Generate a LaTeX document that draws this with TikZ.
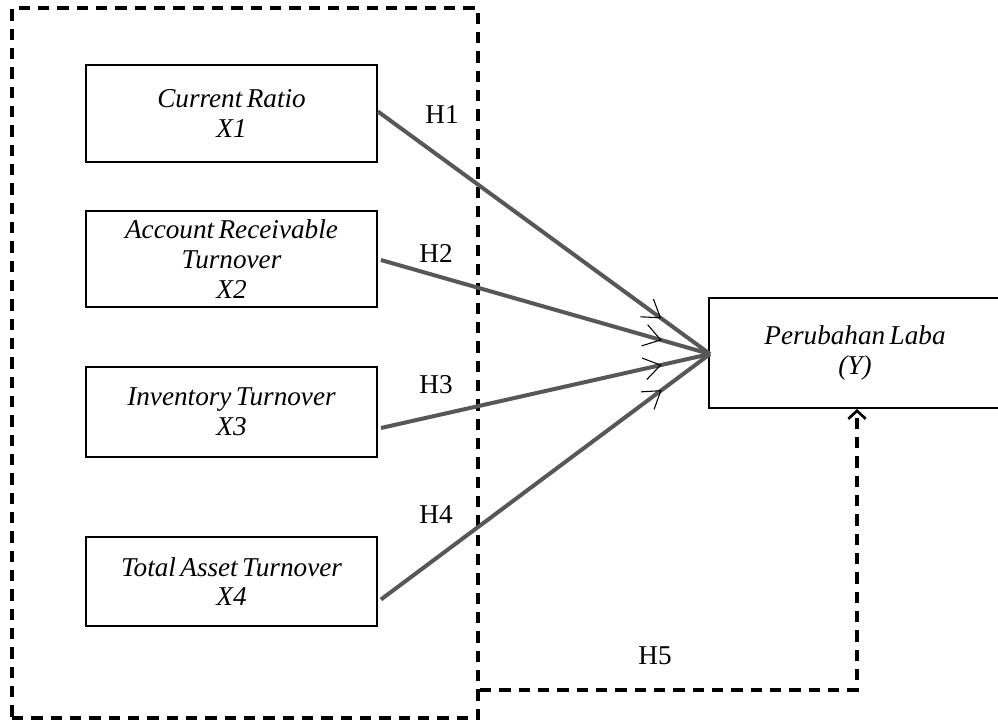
\documentclass[tikz,border=0pt]{standalone}
\usepackage{fontspec}
\setmainfont{Liberation Serif}[WordSpace=0.65]
\usetikzlibrary{arrows.meta,decorations.markings,calc}
\begin{document}
\begin{tikzpicture}[x=0.75pt,y=-0.75pt,
  box/.style={draw=black,line width=1.4pt,minimum width=291*0.75pt,align=center,inner sep=0pt,
    font=\fontsize{20.4}{22.3}\selectfont\itshape},
  lbl/.style={font=\fontsize{20.4}{22.3}\selectfont},
  grpbox/.style={draw=black,line width=2.8pt,dash pattern=on 8.5pt off 6pt,minimum width=466*0.75pt,minimum height=710*0.75pt,inner sep=0pt},
  hyp/.style={draw=black!66,line width=3pt,
    postaction={decorate,decoration={markings,mark=at position 0.853 with {\arrow[black,line width=0.8pt]{Straight Barb[length=12.5pt,width=16.5pt]}}}}},
  dasharrow/.style={draw=black,line width=2.8pt,dash pattern=on 8.5pt off 6pt,-{Straight Barb[length=6pt,width=13pt,line width=2pt]}}
]
\useasboundingbox (0,0) rectangle (998,724);
\node[grpbox] (grp) at (245,363) {};
\node[box,minimum height=97*0.75pt] (b1) at (231.5,113.5) {Current Ratio\\X1};
\node[box,minimum height=96*0.75pt] (b2) at (231.5,259) {Account Receivable\\Turnover\\X2};
\node[box,minimum height=90*0.75pt] (b3) at (231.5,412) {Inventory Turnover\\X3};
\node[box,minimum height=89*0.75pt] (b4) at (231.5,581.5) {Total Asset Turnover\\X4};
\node[box,line width=1.5pt,minimum width=292*0.75pt,minimum height=110*0.75pt] (Y) at (855,353) {Perubahan Laba\\(Y)};
\coordinate (conv) at ($(Y.west)+(2,1)$);
\draw[hyp] ($(b1.east)+(0,-2)$) -- (conv);
\draw[hyp] ($(b2.east)+(3,1)$) -- (conv);
\draw[hyp] ($(b3.east)+(3,16)$) -- (conv);
\draw[hyp] ($(b4.east)+(3,18)$) -- (conv);
\node[lbl] (h1) at (442,115) {H1};
\node[lbl] (h2) at (436,253) {H2};
\node[lbl] (h3) at (436,385) {H3};
\node[lbl] (h4) at (436,515) {H4};
\node[lbl] (h5) at (655,656) {H5};
\coordinate (h5s) at (grp.east |- 0,690);
\draw[dasharrow] (h5s) -| ($(Y.south west)+(149,0)$);
\end{tikzpicture}
\end{document}
